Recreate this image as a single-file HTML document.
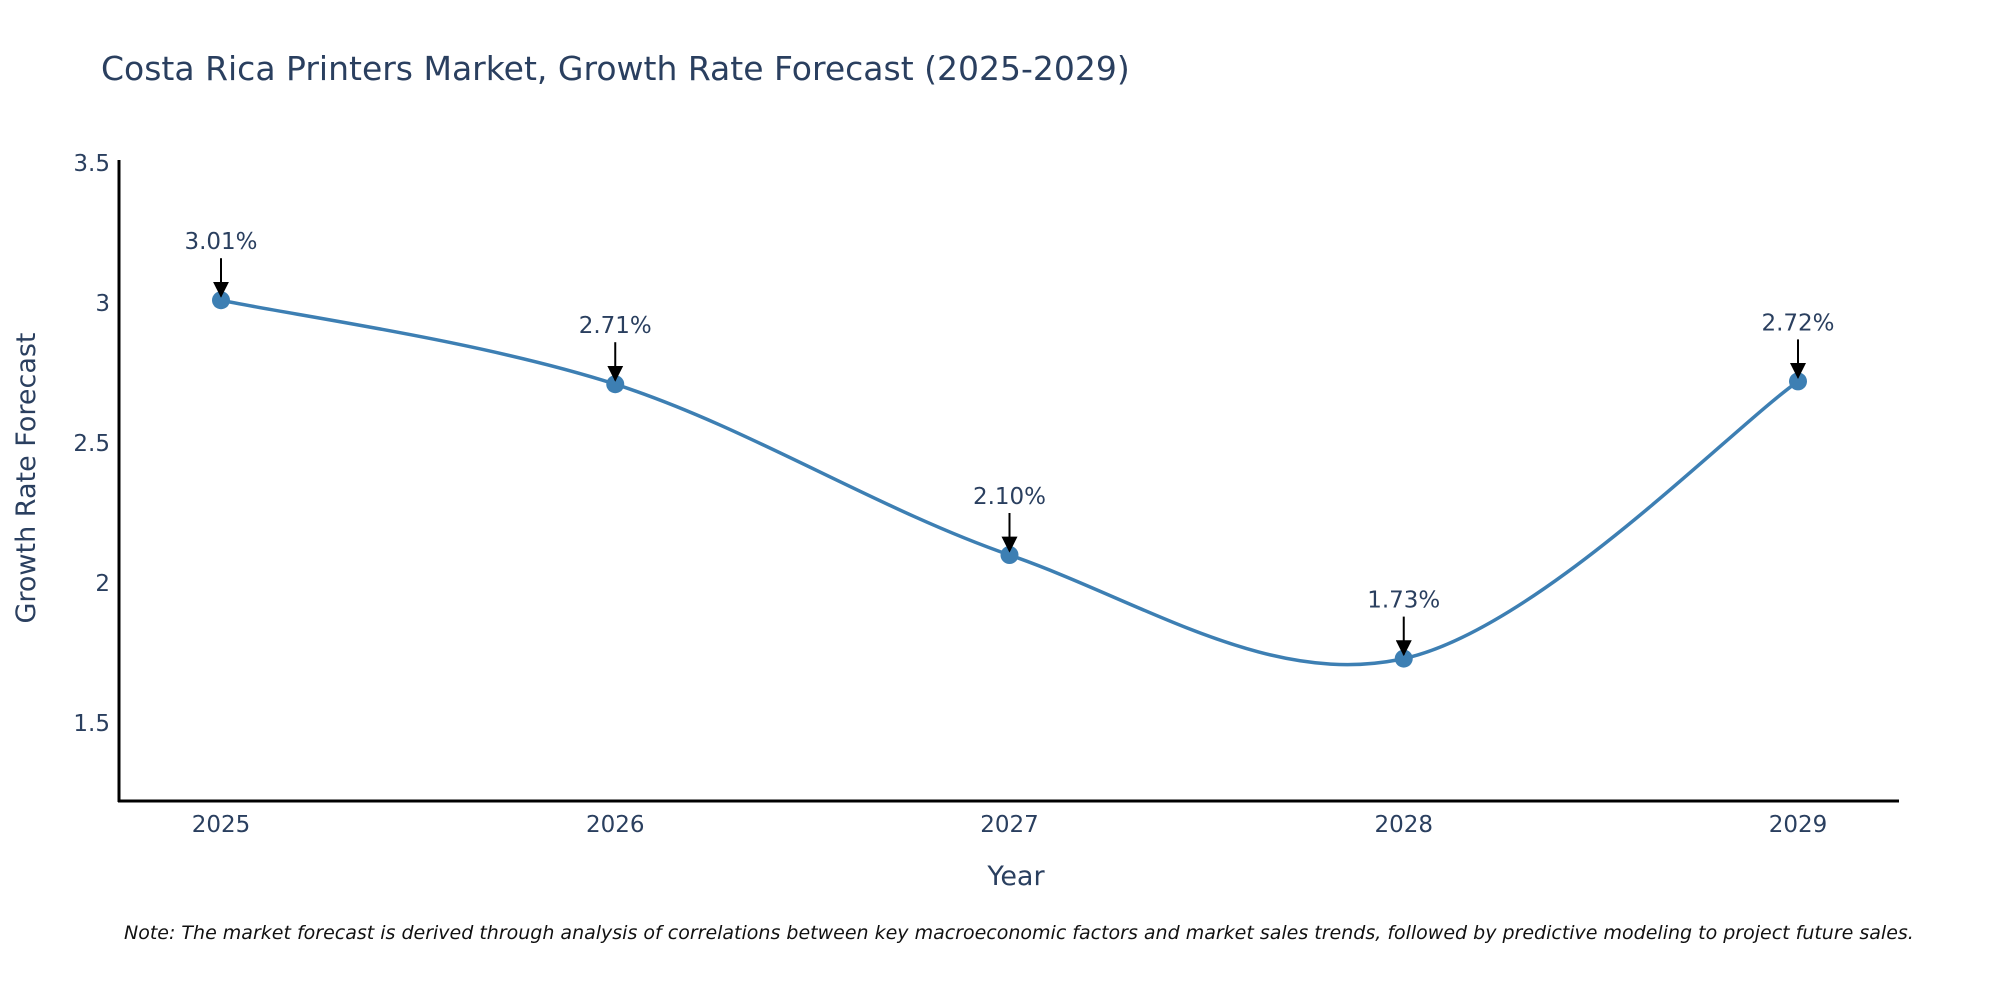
<!DOCTYPE html>
<html><head><meta charset="utf-8"><style>
body{margin:0;background:#fff;overflow:hidden;}
svg text{font-family:"DejaVu Sans","Liberation Sans",sans-serif;fill:#2a3f5f;}
</style></head><body>
<svg width="2000" height="1000" viewBox="0 0 2000 1000">
<defs><marker id="ah2" viewBox="0 0 10 10" refX="9" refY="5" markerWidth="16" markerHeight="16" markerUnits="userSpaceOnUse" orient="auto"><path d="M0,0 L10,5 L0,10 z" fill="#000"/></marker></defs>
<text x="101" y="80" font-size="33">Costa Rica Printers Market, Growth Rate Forecast (2025-2029)</text>
<g id="yticks"></g><g id="xticks"></g>
<line x1="119" y1="160" x2="119" y2="802" stroke="#000" stroke-width="3"/>
<line x1="118" y1="801" x2="1899" y2="801" stroke="#000" stroke-width="3"/>
<text x="1016" y="885" font-size="27" text-anchor="middle">Year</text>
<text x="0" y="0" font-size="27" text-anchor="middle" transform="translate(35,478) rotate(-90)">Growth Rate Forecast</text>
<path id="line" fill="none" stroke="#3d7fb3" stroke-width="3.5"/>
<g id="pts"></g><g id="ann"></g>
<text x="124" y="939" font-size="19" font-style="italic" style="fill:#111">Note: The market forecast is derived through analysis of correlations between key macroeconomic factors and market sales trends, followed by predictive modeling to project future sales.</text>
</svg>
<script>
const years=[2025,2026,2027,2028,2029];
const values=[3.01,2.71,2.10,1.73,2.72];
const labels=["3.01%","2.71%","2.10%","1.73%","2.72%"];
const yTicks=[1.5,2,2.5,3,3.5];
const yTickLabels=["1.5","2","2.5","3","3.5"];
const NS="http://www.w3.org/2000/svg";
function X(i){return 221+i*394.25;}
function Y(v){return 583-(v-2)*280;}
function mk(t,a,p){const e=document.createElementNS(NS,t);for(const k in a)e.setAttribute(k,a[k]);p.appendChild(e);return e;}
const yt=document.getElementById('yticks');
yTicks.forEach((v,i)=>{const t=mk('text',{x:110,y:Y(v)+8,'font-size':23,'text-anchor':'end'},yt);t.textContent=yTickLabels[i];

});
const xt=document.getElementById('xticks');
years.forEach((y,i)=>{const t=mk('text',{x:X(i),y:832,'font-size':23,'text-anchor':'middle'},xt);t.textContent=y;

});
const P=values.map((v,i)=>[X(i),Y(v)]);
let d=`M${P[0][0]},${P[0][1]}`;const s=0.17;
for(let i=0;i<P.length-1;i++){const p0=P[Math.max(0,i-1)],p1=P[i],p2=P[i+1],p3=P[Math.min(P.length-1,i+2)];
d+=` C${p1[0]+(p2[0]-p0[0])*s},${p1[1]+(p2[1]-p0[1])*s} ${p2[0]-(p3[0]-p1[0])*s},${p2[1]-(p3[1]-p1[1])*s} ${p2[0]},${p2[1]}`;}
document.getElementById('line').setAttribute('d',d);
const pts=document.getElementById('pts'),ann=document.getElementById('ann');
P.forEach((p,i)=>{const c=mk('circle',{cx:p[0],cy:p[1],r:9,fill:'#3d7fb3'},pts);


const l=mk('line',{x1:p[0],y1:p[1]-42,x2:p[0],y2:p[1]-4,stroke:'#000','stroke-width':2,'marker-end':'url(#ah2)'},ann);


const t=mk('text',{x:p[0],y:p[1]-51,'font-size':23,'text-anchor':'middle'},ann);t.textContent=labels[i];

});
</script>
</body></html>
